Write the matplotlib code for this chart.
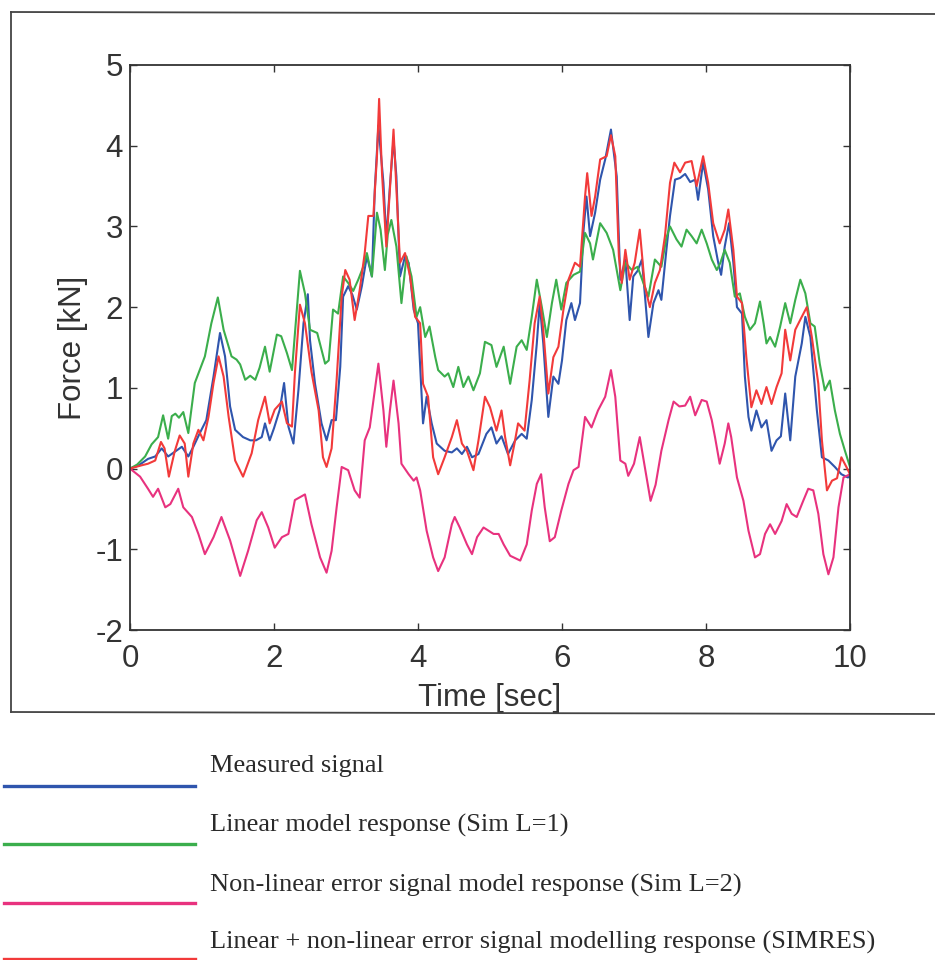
import numpy as np
import matplotlib
matplotlib.use("Agg")
import matplotlib.pyplot as plt
from matplotlib.lines import Line2D

# ---------------- data ----------------
t_measured = [0, 0.12, 0.25, 0.35, 0.44, 0.53, 0.625, 0.72, 0.81, 0.88,
              0.97, 1.06, 1.16, 1.25, 1.32, 1.39, 1.46, 1.57, 1.67, 1.75,
              1.83, 1.875, 1.94, 2.0, 2.08, 2.14, 2.2, 2.27, 2.34, 2.41,
              2.47, 2.5, 2.57, 2.66, 2.73, 2.8, 2.86, 2.92, 2.96, 3.03,
              3.09, 3.15, 3.22, 3.29, 3.36, 3.40, 3.45, 3.52, 3.56, 3.61,
              3.66, 3.70, 3.75, 3.82, 3.87, 3.94, 4.0, 4.07, 4.12, 4.19,
              4.26, 4.37, 4.47, 4.54, 4.61, 4.68, 4.75, 4.84, 4.95, 5.02,
              5.09, 5.16, 5.25, 5.35, 5.44, 5.51, 5.58, 5.65, 5.69, 5.74,
              5.81, 5.88, 5.95, 6.0, 6.06, 6.13, 6.18, 6.25, 6.30, 6.34,
              6.39, 6.46, 6.53, 6.60, 6.68, 6.76, 6.81, 6.88, 6.94, 6.99,
              7.05, 7.11, 7.20, 7.27, 7.34, 7.38, 7.45, 7.50, 7.57, 7.64,
              7.71, 7.78, 7.85, 7.89, 7.96, 8.03, 8.10, 8.17, 8.21, 8.26,
              8.32, 8.38, 8.43, 8.50, 8.54, 8.59, 8.63, 8.70, 8.77, 8.84,
              8.91, 8.98, 9.04, 9.10, 9.17, 9.24, 9.33, 9.38, 9.45, 9.49,
              9.54, 9.61, 9.70, 9.79, 9.88, 9.97, 10.0]
f_measured = [0, 0.04, 0.12, 0.15, 0.25, 0.15, 0.21, 0.27, 0.15, 0.27,
              0.44, 0.6, 1.14, 1.68, 1.39, 0.77, 0.48, 0.39, 0.35, 0.35,
              0.39, 0.56, 0.35, 0.5, 0.73, 1.06, 0.52, 0.31, 0.98, 1.8,
              2.16, 1.59, 1.05, 0.56, 0.35, 0.6, 0.6, 1.26, 2.13, 2.26,
              2.15, 1.97, 2.26, 2.63, 2.38, 3.46, 4.25, 3.54, 2.84, 3.5,
              4.08, 3.62, 2.38, 2.63, 2.55, 1.97, 1.8, 0.56, 0.89, 0.56,
              0.31, 0.22, 0.2, 0.25, 0.18, 0.27, 0.14, 0.18, 0.43, 0.51,
              0.31, 0.4, 0.18, 0.35, 0.43, 0.37, 0.85, 1.55, 2.05, 1.55,
              0.64, 1.14, 1.05, 1.34, 1.84, 2.05, 1.84, 2.05, 2.96, 3.37,
              2.88, 3.17, 3.58, 3.83, 4.2, 3.62, 2.34, 2.59, 1.84, 2.38,
              2.45, 2.59, 1.63, 2.05, 2.21, 2.09, 2.71, 3.13, 3.58, 3.6,
              3.65, 3.55, 3.58, 3.33, 3.79, 3.46, 2.88, 2.55, 2.4, 2.75,
              3.04, 2.55, 2.0, 1.92, 1.14, 0.64, 0.47, 0.72, 0.51, 0.6,
              0.22, 0.35, 0.4, 0.93, 0.35, 1.14, 1.55, 1.88, 1.63, 1.22,
              0.72, 0.14, 0.1, 0.02, -0.07, -0.11, -0.1]

t_linear = [0, 0.1, 0.21, 0.3, 0.39, 0.46, 0.53, 0.58, 0.63, 0.68,
            0.74, 0.81, 0.9, 1.04, 1.13, 1.22, 1.3, 1.41, 1.48, 1.53,
            1.6, 1.67, 1.74, 1.8, 1.875, 1.94, 2.04, 2.1, 2.18, 2.25,
            2.36, 2.43, 2.50, 2.6, 2.71, 2.76, 2.82, 2.89, 2.96, 3.03,
            3.1, 3.17, 3.24, 3.29, 3.36, 3.43, 3.48, 3.54, 3.58, 3.63,
            3.70, 3.77, 3.84, 3.91, 3.98, 4.03, 4.1, 4.16, 4.24, 4.28,
            4.37, 4.42, 4.49, 4.56, 4.63, 4.70, 4.77, 4.86, 4.93, 5.02,
            5.09, 5.19, 5.28, 5.37, 5.44, 5.51, 5.58, 5.65, 5.72, 5.79,
            5.86, 5.92, 5.99, 6.06, 6.16, 6.25, 6.32, 6.39, 6.43, 6.53,
            6.62, 6.71, 6.76, 6.81, 6.88, 6.97, 7.05, 7.13, 7.20, 7.29,
            7.38, 7.45, 7.50, 7.59, 7.66, 7.73, 7.80, 7.87, 7.94, 8.01,
            8.08, 8.15, 8.20, 8.26, 8.33, 8.40, 8.47, 8.54, 8.61, 8.68,
            8.75, 8.80, 8.84, 8.89, 8.96, 9.03, 9.10, 9.17, 9.24, 9.31,
            9.38, 9.45, 9.51, 9.58, 9.65, 9.72, 9.79, 9.86, 9.93, 10.0]
f_linear = [0, 0.05, 0.15, 0.3, 0.39, 0.66, 0.37, 0.65, 0.68, 0.63,
            0.7, 0.44, 1.06, 1.39, 1.8, 2.12, 1.72, 1.39, 1.35, 1.29,
            1.1, 1.15, 1.1, 1.25, 1.51, 1.2, 1.66, 1.64, 1.43, 1.22,
            2.45, 2.17, 1.72, 1.68, 1.30, 1.34, 1.97, 1.92, 2.38, 2.3,
            2.2, 2.34, 2.5, 2.67, 2.38, 3.17, 2.96, 2.46, 2.9, 3.08,
            2.75, 2.05, 2.63, 2.38, 1.88, 2.0, 1.63, 1.76, 1.38, 1.22,
            1.14, 1.18, 1.01, 1.26, 1.01, 1.14, 0.97, 1.18, 1.57, 1.53,
            1.26, 1.51, 1.05, 1.51, 1.59, 1.47, 1.88, 2.34, 2.0, 1.63,
            2.05, 2.34, 1.97, 2.3, 2.4, 2.44, 2.92, 2.79, 2.59, 3.04,
            2.92, 2.71, 2.46, 2.21, 2.55, 2.46, 2.5, 2.3, 2.13, 2.59,
            2.5, 2.86, 3.0, 2.84, 2.75, 2.96, 2.88, 2.79, 2.96, 2.79,
            2.59, 2.46, 2.55, 2.71, 2.55, 2.13, 2.17, 1.88, 1.72, 1.8,
            2.07, 1.8, 1.55, 1.63, 1.51, 1.76, 2.05, 1.8, 2.09, 2.34,
            2.17, 1.8, 1.76, 1.3, 0.97, 1.09, 0.72, 0.43, 0.22, 0.02]

t_nonlinear = [0, 0.14, 0.25, 0.32, 0.39, 0.49, 0.56, 0.67, 0.74, 0.86,
               0.95, 1.04, 1.16, 1.27, 1.39, 1.53, 1.64, 1.76, 1.83, 1.92,
               2.01, 2.11, 2.2, 2.29, 2.43, 2.52, 2.64, 2.73, 2.80, 2.87,
               2.94, 3.03, 3.12, 3.19, 3.26, 3.33, 3.40, 3.45, 3.52, 3.56,
               3.61, 3.66, 3.73, 3.77, 3.87, 3.94, 3.98, 4.03, 4.12, 4.21,
               4.28, 4.37, 4.47, 4.51, 4.58, 4.68, 4.75, 4.82, 4.91, 4.98,
               5.05, 5.12, 5.19, 5.28, 5.42, 5.51, 5.58, 5.65, 5.71, 5.76,
               5.83, 5.90, 5.99, 6.09, 6.16, 6.23, 6.32, 6.41, 6.50, 6.60,
               6.68, 6.74, 6.81, 6.88, 6.92, 7.0, 7.08, 7.15, 7.23, 7.30,
               7.38, 7.48, 7.55, 7.63, 7.71, 7.78, 7.85, 7.94, 8.01, 8.08,
               8.125, 8.19, 8.26, 8.31, 8.35, 8.43, 8.52, 8.59, 8.68, 8.75,
               8.82, 8.89, 8.96, 9.05, 9.12, 9.19, 9.26, 9.35, 9.42, 9.49,
               9.56, 9.63, 9.70, 9.77, 9.84, 9.91, 10.0]
f_nonlinear = [0, -0.1, -0.25, -0.35, -0.25, -0.48, -0.44, -0.25, -0.48, -0.6,
               -0.81, -1.06, -0.85, -0.6, -0.89, -1.33, -1.02, -0.64, -0.54, -0.73,
               -0.98, -0.85, -0.81, -0.39, -0.32, -0.69, -1.1, -1.29, -1.02, -0.48,
               0.02, -0.02, -0.27, -0.36, 0.35, 0.51, 0.97, 1.30, 0.72, 0.27,
               0.72, 1.09, 0.56, 0.06, -0.07, -0.15, -0.11, -0.27, -0.77, -1.1,
               -1.27, -1.1, -0.69, -0.6, -0.73, -0.94, -1.06, -0.85, -0.73, -0.77,
               -0.81, -0.81, -0.94, -1.08, -1.14, -0.94, -0.52, -0.19, -0.07, -0.48,
               -0.9, -0.85, -0.52, -0.19, -0.02, 0.02, 0.64, 0.51, 0.72, 0.89,
               1.22, 0.89, 0.1, 0.06, -0.09, 0.06, 0.39, 0.02, -0.4, -0.2,
               0.22, 0.6, 0.83, 0.77, 0.78, 0.89, 0.66, 0.85, 0.83, 0.6,
               0.39, 0.06, 0.31, 0.56, 0.39, -0.11, -0.4, -0.77, -1.1, -1.06,
               -0.81, -0.69, -0.81, -0.65, -0.44, -0.56, -0.6, -0.4, -0.25, -0.27,
               -0.56, -1.06, -1.31, -1.1, -0.48, -0.11, -0.07]

t_simres = [0, 0.16, 0.25, 0.35, 0.43, 0.48, 0.54, 0.62, 0.69, 0.76,
            0.81, 0.88, 0.95, 1.02, 1.09, 1.16, 1.23, 1.30, 1.37, 1.46,
            1.57, 1.69, 1.78, 1.875, 1.94, 2.01, 2.11, 2.18, 2.25, 2.29,
            2.36, 2.43, 2.52, 2.62, 2.68, 2.73, 2.80, 2.87, 2.94, 2.99,
            3.05, 3.12, 3.19, 3.26, 3.31, 3.38, 3.43, 3.46, 3.50, 3.56,
            3.61, 3.66, 3.70, 3.75, 3.82, 3.89, 3.96, 4.03, 4.07, 4.14,
            4.21, 4.28, 4.37, 4.47, 4.54, 4.61, 4.68, 4.77, 4.84, 4.93,
            5.0, 5.09, 5.16, 5.21, 5.28, 5.34, 5.39, 5.48, 5.55, 5.62,
            5.69, 5.74, 5.81, 5.88, 5.95, 6.02, 6.09, 6.18, 6.25, 6.32,
            6.35, 6.41, 6.46, 6.53, 6.62, 6.68, 6.74, 6.79, 6.83, 6.88,
            6.94, 7.01, 7.08, 7.15, 7.22, 7.29, 7.36, 7.43, 7.50, 7.56,
            7.64, 7.71, 7.80, 7.87, 7.96, 8.03, 8.10, 8.19, 8.26, 8.31,
            8.38, 8.43, 8.50, 8.56, 8.63, 8.70, 8.77, 8.84, 8.91, 8.98,
            9.05, 9.10, 9.17, 9.24, 9.33, 9.40, 9.47, 9.56, 9.61, 9.68,
            9.75, 9.82, 9.88, 9.95, 10.0]
f_simres = [0, 0.04, 0.06, 0.1, 0.33, 0.25, -0.1, 0.21, 0.41, 0.31,
            -0.1, 0.31, 0.48, 0.35, 0.64, 1.06, 1.39, 1.14, 0.64, 0.1,
            -0.1, 0.19, 0.6, 0.89, 0.56, 0.73, 0.83, 0.56, 0.52, 1.18,
            2.03, 1.8, 1.2, 0.72, 0.14, 0.02, 0.25, 1.1, 2.13, 2.46,
            2.34, 1.84, 2.21, 2.67, 3.13, 3.13, 3.87, 4.58, 3.66, 2.75,
            3.46, 4.2, 3.46, 2.55, 2.67, 2.38, 1.88, 1.8, 1.05, 0.89,
            0.14, -0.07, 0.14, 0.39, 0.6, 0.31, 0.22, -0.02, 0.35, 0.89,
            0.76, 0.47, 0.72, 0.39, 0.04, 0.31, 0.56, 0.47, 1.09, 1.8,
            2.13, 1.72, 0.93, 1.38, 1.51, 1.97, 2.34, 2.55, 2.5, 3.37,
            3.66, 3.13, 3.37, 3.83, 3.87, 4.13, 3.87, 2.63, 2.3, 2.71,
            2.34, 2.55, 2.96, 2.26, 2.0, 2.3, 2.46, 2.88, 3.54, 3.79,
            3.67, 3.79, 3.81, 3.5, 3.87, 3.54, 3.04, 2.79, 2.96, 3.21,
            2.71, 2.13, 2.05, 1.38, 0.76, 0.97, 0.8, 1.01, 0.8, 1.01,
            1.18, 1.72, 1.34, 1.72, 1.88, 2.0, 1.63, 1.05, 0.35, -0.27,
            -0.15, -0.12, 0.14, 0.02, -0.07]

legend_labels = ["Measured signal",
                 "Linear model response (Sim L=1)",
                 "Non-linear error signal model response (Sim L=2)",
                 "Linear + non-linear error signal modelling response (SIMRES)"]
x_ticks = [0, 2, 4, 6, 8, 10]
y_ticks = [-2, -1, 0, 1, 2, 3, 4, 5]

# ---------------- style ----------------
c_blue = "#2f55ad"
c_green = "#3bae4c"
c_mag = "#e8327e"
c_red = "#f23a3a"
ink = "#333333"

W, H = 935, 960
fig = plt.figure(figsize=(W / 100, H / 100), dpi=100)
fig.patch.set_facecolor("white")


def fx(px):
    return px / W


def fy(py):
    return 1 - py / H


ax = fig.add_axes([fx(130), fy(630), fx(850) - fx(130), fy(65) - fy(630)])

series = [(t_measured, f_measured, c_blue),
          (t_linear, f_linear, c_green),
          (t_nonlinear, f_nonlinear, c_mag),
          (t_simres, f_simres, c_red)]
for (tt, ff, col), lab in zip(series, legend_labels):
    ax.plot(tt, ff, color=col, lw=1.5, label=lab)

ax.set_xlim(0, 10)
ax.set_ylim(-2, 5)
ax.set_xticks(x_ticks)
ax.set_yticks(y_ticks)
ax.set_xticklabels([str(v) for v in x_ticks])
ax.set_yticklabels([str(v) for v in y_ticks])

tick_font = dict(family=["Liberation Sans", "DejaVu Sans"], size=22.5, color=ink)
ax.tick_params(axis="both", which="both", direction="in", length=5, width=1.0,
               color=ink, top=True, right=True, labelcolor=ink)
ax.tick_params(axis="x", pad=10)
ax.tick_params(axis="y", pad=5)
for lbl in ax.get_xticklabels() + ax.get_yticklabels():
    lbl.set_fontfamily(["Liberation Sans", "DejaVu Sans"])
    lbl.set_fontsize(22.5)

for sp in ax.spines.values():
    sp.set_color(ink)
    sp.set_linewidth(1.3)

ax.set_xlabel("Time [sec]", **tick_font)
ax.set_ylabel("Force [kN]", **tick_font)
ax.xaxis.set_label_coords(0.5, -0.093)
ax.yaxis.set_label_coords(-0.058, 0.5)

# outer frame of the scanned figure
frame_kw = dict(transform=fig.transFigure, color="#444444", lw=1.3)
fig.add_artist(Line2D([fx(11), fx(11)], [fy(12), fy(712)], **frame_kw))
fig.add_artist(Line2D([fx(11), 1.0], [fy(12), fy(14)], **frame_kw))
fig.add_artist(Line2D([fx(11), 1.0], [fy(712), fy(714)], **frame_kw))

# legend below the figure (line on the left, serif text above-right)
leg_line_y = [786, 844, 903, 959]
leg_text_y = [766, 825, 885, 942]
leg_cols = [c_blue, c_green, c_mag, c_red]
for ly, ty, col, lab in zip(leg_line_y, leg_text_y, leg_cols, legend_labels):
    fig.add_artist(Line2D([fx(4), fx(195)], [fy(ly), fy(ly)],
                          transform=fig.transFigure, color=col, lw=2.4))
    fig.text(fx(210), fy(ty), lab, ha="left", va="center",
             family=["Liberation Serif", "DejaVu Serif"], size=19, color="#2a2a2a")

fig.savefig("out.png", dpi=100, facecolor="white")
